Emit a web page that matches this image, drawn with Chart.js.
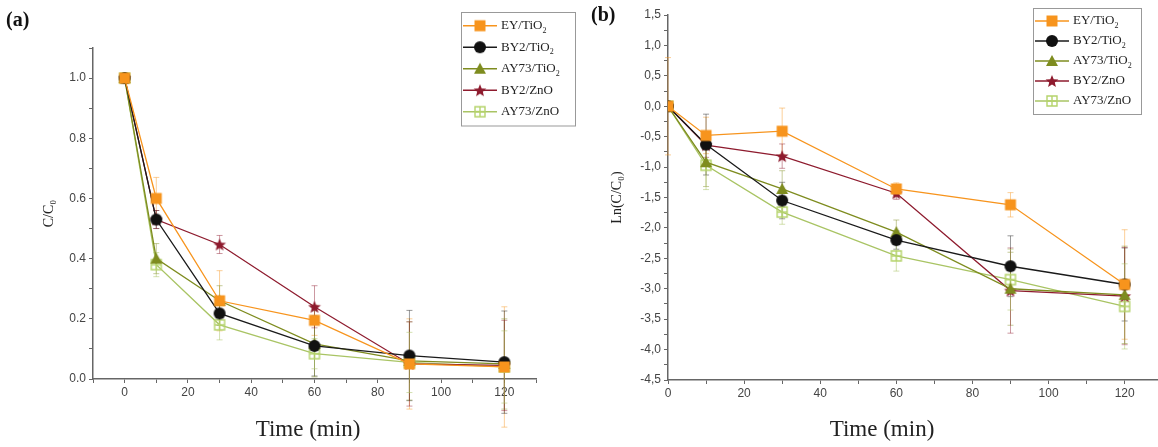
<!DOCTYPE html>
<html>
<head>
<meta charset="utf-8">
<script src="https://cdn.jsdelivr.net/npm/chart.js@4.4.1/dist/chart.umd.min.js"></script>
<style>
    body{ margin:0; background:#fff; }
    #wrap{ position:relative; width:1158px; height:447px; overflow:hidden; }
    canvas{ position:absolute; top:0; }
    .tag{ position:absolute; font:bold 20px 'Liberation Serif', serif; color:#111; }
    .xt{ position:absolute; top:416px; transform:translateX(-50%); font:23px 'Liberation Serif', serif; color:#222; white-space:nowrap; }
</style>
</head>
<body>
<div id="wrap">
    <canvas id="chartA" width="580" height="447" style="left:0"></canvas>
    <canvas id="chartB" width="590" height="447" style="left:580px"></canvas>
    <div class="tag" style="left:6px; top:8px">(a)</div>
    <div class="tag" style="left:591px; top:3px">(b)</div>
    <div class="xt" style="left:308px">Time (min)</div>
    <div class="xt" style="left:882px">Time (min)</div>
</div>
<script>
// Времена отбора проб, мин
const times = [0, 10, 30, 60, 90, 120];
const seriesNames = ['EY/TiO2', 'BY2/TiO2', 'AY73/TiO2', 'BY2/ZnO', 'AY73/ZnO'];

// (a) C/C0
const ratioEY   = [1.0, 0.60, 0.26, 0.195, 0.05, 0.04];
const ratioBY2T = [1.0, 0.53, 0.218, 0.11, 0.078, 0.056];
const ratioAY73T= [1.0, 0.40, 0.26, 0.117, 0.06, 0.05];
const ratioBY2Z = [1.0, 0.53, 0.447, 0.24, 0.05, 0.045];
const ratioAY73Z= [1.0, 0.38, 0.18, 0.084, 0.055, 0.04];
const errRatio = [
    [0, 0.07, 0.10, 0.05, 0.15, 0.20],
    [0, 0.03, 0.04, 0.10, 0.15, 0.17],
    [0, 0.05, 0.05, 0.11, 0.13, 0.15],
    [0, 0.03, 0.03, 0.07, 0.14, 0.15],
    [0, 0.04, 0.05, 0.05, 0.10, 0.12]
];

// (b) Ln(C/C0)
const lnEY   = [0, -0.48, -0.41, -1.36, -1.62, -2.93];
const lnBY2T = [0, -0.63, -1.55, -2.20, -2.63, -2.93];
const lnAY73T= [0, -0.92, -1.36, -2.07, -3.00, -3.10];
const lnBY2Z = [0, -0.64, -0.82, -1.43, -3.03, -3.12];
const lnAY73Z= [0, -0.97, -1.74, -2.46, -2.85, -3.29];
const errLn = [
    [0.8, 0.30, 0.38, 0.10, 0.20, 0.90],
    [0, 0.50, 0.30, 0.15, 0.50, 0.60],
    [0, 0.40, 0.30, 0.20, 0.60, 0.80],
    [0, 0.20, 0.20, 0.10, 0.70, 0.80],
    [0, 0.40, 0.20, 0.25, 0.50, 0.70]
];

const lineColors = ['#F7941D', '#1a1a1a', '#7E8C1F', '#8E1B2E', '#A9C464'];
const errColors = ['rgba(247,148,29,0.45)', 'rgba(30,30,30,0.45)', 'rgba(126,140,31,0.45)', 'rgba(142,27,46,0.45)', 'rgba(169,196,100,0.5)'];

// Маркеры рисуем сами, чтобы получить звезду и квадрат с крестом
function marker(kind, color){
    const size = 14;
    const c = document.createElement('canvas');
    c.width = size; c.height = size;
    const g = c.getContext('2d');
    const m = size / 2;
    g.fillStyle = color;
    g.strokeStyle = color;
    g.lineWidth = 1;
    g.beginPath();
    if(kind == 'square'){
        g.rect(1.5, 1.5, size - 3, size - 3);
        g.fill();
    }
    else if(kind == 'circle'){
        g.arc(m, m, m - 1, 0, Math.PI * 2);
        g.fill();
    }
    else if(kind == 'triangle'){
        g.moveTo(m, 1);
        g.lineTo(size - 1, size - 2);
        g.lineTo(1, size - 2);
        g.closePath();
        g.fill();
    }
    else if(kind == 'star'){
        for(let i = 0; i < 10; i++){
            let r = i % 2 ? m * 0.42 : m - 0.3;
            let a = -Math.PI / 2 + i * Math.PI / 5;
            g.lineTo(m + r * Math.cos(a), m + 0.6 + r * Math.sin(a));
        }
        g.closePath();
        g.fill();
    }
    else{
        g.lineWidth = 1.4;
        g.rect(2, 2, size - 4, size - 4);
        g.moveTo(m, 2); g.lineTo(m, size - 2);
        g.moveTo(2, m); g.lineTo(size - 2, m);
        g.stroke();
    }
    return c;
}

const markers = [
    marker('square', '#F7941D'),
    marker('circle', '#111111'),
    marker('triangle', '#7E8C1F'),
    marker('star', '#8E1B2E'),
    marker('open', '#B5D36B')
];

function makeDatasets(rows, errs){
    return rows.map(function(row, k){
        return {
            label: seriesNames[k],
            data: row.map((v, i) => ({x: times[i], y: v})),
            borderColor: lineColors[k],
            backgroundColor: lineColors[k],
            borderWidth: 1.3,
            pointStyle: markers[k],
            pointRadius: 6,
            tension: 0,
            errors: errs[k],
            errColor: errColors[k]
        };
    });
}

// Вертикальные погрешности через шкалы графика
const errorBars = {
    id: 'errorBars',
    beforeDatasetsDraw(chart){
        const ctx = chart.ctx;
        const xs = chart.scales.x, ys = chart.scales.y;
        chart.data.datasets.forEach(function(ds){
            ctx.save();
            ctx.strokeStyle = ds.errColor;
            ctx.lineWidth = 1;
            ds.data.forEach(function(p, i){
                let e = ds.errors[i];
                if(!e) return;
                let x = xs.getPixelForValue(p.x);
                let y1 = ys.getPixelForValue(p.y + e);
                let y2 = ys.getPixelForValue(p.y - e);
                ctx.beginPath();
                ctx.moveTo(x, y1); ctx.lineTo(x, y2);
                ctx.moveTo(x - 3, y1); ctx.lineTo(x + 3, y1);
                ctx.moveTo(x - 3, y2); ctx.lineTo(x + 3, y2);
                ctx.stroke();
            });
            ctx.restore();
        });
    }
};

// Легенда в рамке внутри области графика
const boxLegend = {
    id: 'boxLegend',
    afterDraw(chart){
        const o = chart.options.plugins.boxLegend;
        const ctx = chart.ctx;
        const n = chart.data.datasets.length;
        ctx.save();
        ctx.fillStyle = '#fff';
        ctx.fillRect(o.left, o.top, o.width, o.rowH * n + 6);
        ctx.strokeStyle = '#999';
        ctx.lineWidth = 1;
        ctx.strokeRect(o.left + 0.5, o.top + 0.5, o.width, o.rowH * n + 6);
        chart.data.datasets.forEach(function(ds, k){
            let y = o.top + 3 + o.rowH * (k + 0.5);
            ctx.strokeStyle = ds.borderColor;
            ctx.lineWidth = 1.3;
            ctx.beginPath();
            ctx.moveTo(o.left + 2, y); ctx.lineTo(o.left + 36, y);
            ctx.stroke();
            ctx.drawImage(ds.pointStyle, o.left + 19 - 7, y - 7);
            let label = ds.label;
            let sub = '';
            if(label.endsWith('O2')){ sub = '2'; label = label.slice(0, -1); }
            ctx.fillStyle = '#222';
            ctx.textBaseline = 'middle';
            ctx.font = '13px "Liberation Serif", serif';
            ctx.fillText(label, o.left + 40, y);
            if(sub){
                let w = ctx.measureText(label).width;
                ctx.font = '8px "Liberation Serif", serif';
                ctx.fillText(sub, o.left + 40 + w, y + 5);
            }
        });
        ctx.restore();
    }
};

const tickFont = {family: '"Liberation Sans", sans-serif', size: 12};
const titleFont = {family: '"Liberation Serif", "DejaVu Serif", serif'};

function xAxis(min, height){
    return {
        type: 'linear', min: min, max: 130,
        ticks: {
            stepSize: 10, autoSkip: false, maxRotation: 0, maxTicksLimit: 100,
            color: '#444', font: tickFont, padding: 2,
            callback: v => (v >= 0 && v % 20 === 0) ? v : ''
        },
        grid: {drawOnChartArea: false, tickLength: 4, color: '#666'},
        border: {color: '#666', width: 1.5},
        afterFit(s){ s.height = height; }
    };
}

new Chart(document.getElementById('chartA'), {
    type: 'line',
    data: {datasets: makeDatasets([ratioEY, ratioBY2T, ratioAY73T, ratioBY2Z, ratioAY73Z], errRatio)},
    options: {
        responsive: false, animation: false, devicePixelRatio: 1,
        layout: {padding: {left: 39, top: 48, right: 44, bottom: 4}},
        scales: {
            x: xAxis(-10, 64),
            y: {
                min: 0, max: 1.1,
                ticks: {
                    stepSize: 0.1, autoSkip: false, maxTicksLimit: 100,
                    color: '#444', font: tickFont, padding: 3,
                    callback: function(v){
                        let k = Math.round(v * 10);
                        return (k % 2 == 0 && k <= 10) ? (k / 10).toFixed(1) : '';
                    }
                },
                grid: {drawOnChartArea: false, tickLength: 4, color: '#666'},
                border: {color: '#666', width: 1.5},
                title: {display: true, text: 'C/C₀', color: '#222', font: Object.assign({size: 14}, titleFont), padding: 2},
                afterFit(s){ s.width = 54; }
            }
        },
        plugins: {
            legend: {display: false},
            tooltip: {enabled: false},
            boxLegend: {left: 461, top: 12, width: 114, rowH: 21.5}
        }
    },
    plugins: [errorBars, boxLegend]
});

new Chart(document.getElementById('chartB'), {
    type: 'line',
    data: {datasets: makeDatasets([lnEY, lnBY2T, lnAY73T, lnBY2Z, lnAY73Z], errLn)},
    options: {
        responsive: false, animation: false, devicePixelRatio: 1,
        layout: {padding: {left: 27, top: 15, right: 4, bottom: 4}},
        scales: {
            x: xAxis(0, 63),
            y: {
                min: -4.5, max: 1.5,
                ticks: {
                    stepSize: 0.25, autoSkip: false, maxTicksLimit: 100,
                    color: '#444', font: tickFont, padding: 3,
                    callback: function(v){
                        let k = Math.round(v * 4);
                        return k % 2 == 0 ? v.toFixed(1).replace('.', ',') : '';
                    }
                },
                grid: {drawOnChartArea: false, tickLength: 4, color: '#666'},
                border: {color: '#666', width: 1.5},
                title: {display: true, text: 'Ln(C/C₀)', color: '#222', font: Object.assign({size: 14}, titleFont), padding: 2},
                afterFit(s){ s.width = 61; }
            }
        },
        plugins: {
            legend: {display: false},
            tooltip: {enabled: false},
            boxLegend: {left: 453, top: 8, width: 108, rowH: 20}
        }
    },
    plugins: [errorBars, boxLegend]
});
</script>
</body>
</html>
